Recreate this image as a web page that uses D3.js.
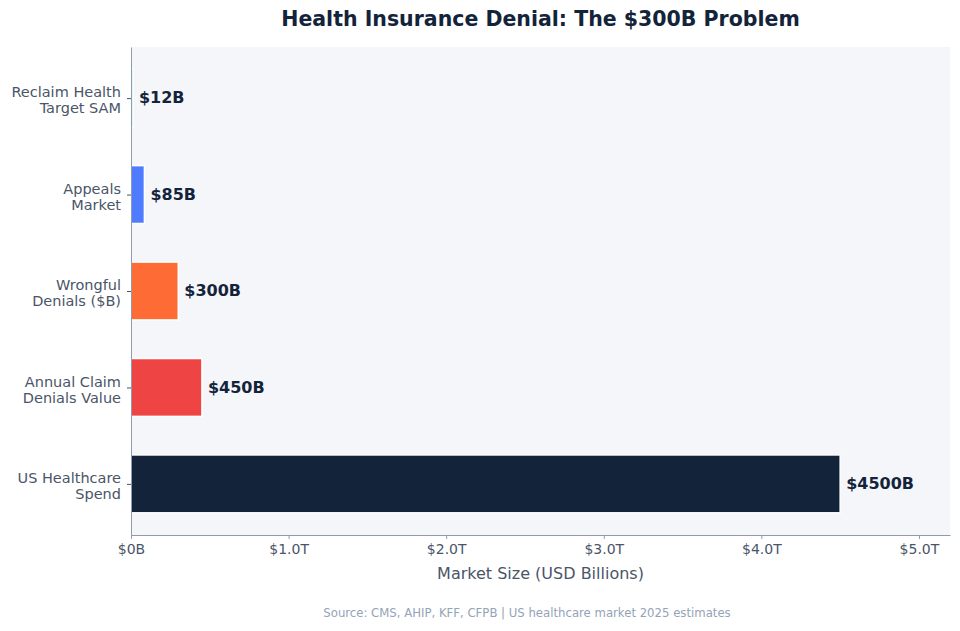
<!DOCTYPE html>
<html>
<head>
<meta charset="utf-8">
<script src="https://cdn.jsdelivr.net/npm/d3@7"></script>
<style>
  body { margin: 0; background: #fff; }
  svg, svg text { font-family: "DejaVu Sans", sans-serif; }
</style>
</head>
<body>
<div id="chart"></div>
<script>
// data, bottom to top
var categories = ["US Healthcare\nSpend", "Annual Claim\nDenials Value", "Wrongful\nDenials ($B)", "Appeals\nMarket", "Reclaim Health\nTarget SAM"];
var values = [4500, 450, 300, 85, 12];
var colors = ["#13243a", "#ef4444", "#ff6b35", "#4f7cff", "#10b981"];
var xTicks = [0, 1000, 2000, 3000, 4000, 5000];
var xTickLabels = ["$0B", "$1.0T", "$2.0T", "$3.0T", "$4.0T", "$5.0T"];

var W = 960, H = 631;
var margin = {top: 47, right: 10, bottom: 96, left: 131};
var width = W - margin.left - margin.right,
    height = H - margin.top - margin.bottom;

var svg = d3.select("#chart").append("svg")
    .attr("width", W)
    .attr("height", H);

var g = svg.append("g")
    .attr("transform", "translate(" + margin.left + "," + margin.top + ")");

var x = d3.scaleLinear()
    .domain([0, 5197])
    .range([0, width]);

var y = d3.scaleLinear()
    .domain([-0.53, 4.53])
    .range([height, 0]);

var barH = y(0) - y(0.6);

g.append("rect")
    .attr("width", width)
    .attr("height", height)
    .attr("fill", "#f5f6fa");

// bars
g.selectAll(".bar")
    .data(values)
  .enter().append("rect")
    .attr("class", "bar")
    .attr("x", x(0))
    .attr("y", (d, i) => y(i) - barH / 2)
    .attr("width", d => x(d) - x(0))
    .attr("height", barH)
    .attr("fill", (d, i) => colors[i])
    .attr("stroke", "#fff")
    .attr("stroke-width", 1.5);

// value labels
g.selectAll(".val")
    .data(values)
  .enter().append("text")
    .attr("class", "val")
    .attr("x", d => x(d) + 6)
    .attr("y", (d, i) => y(i))
    .attr("dy", "0.33em")
    .attr("fill", "#13243a")
    .attr("font-size", 16)
    .attr("font-weight", "bold")
    .text(d => "$" + d + "B");

// x axis
var xAxis = g.append("g")
    .attr("transform", "translate(0," + height + ")")
    .call(d3.axisBottom(x).tickValues(xTicks).tickFormat((d, i) => xTickLabels[i]).tickSize(4).tickSizeOuter(0));
xAxis.attr("font-family", null);
xAxis.select(".domain").attr("stroke", "#8f9bb0").attr("stroke-width", 1);
xAxis.selectAll(".tick line").attr("stroke", "#8f9bb0");
xAxis.selectAll(".tick text")
    .attr("fill", "#4a5568")
    .attr("font-size", 14)
    .attr("y", 8)
    .attr("dy", "0.8em");

// y axis
var yAxis = g.append("g")
    .call(d3.axisLeft(y).tickValues(d3.range(categories.length)).tickFormat("").tickSize(4).tickSizeOuter(0));
yAxis.attr("font-family", null);
yAxis.select(".domain").attr("stroke", "#8f9bb0").attr("stroke-width", 1);
yAxis.selectAll(".tick line").attr("stroke", "#4a5568");
yAxis.selectAll(".tick").each(function(d) {
  var lines = categories[d].split("\n");
  var t = d3.select(this).append("text")
      .attr("text-anchor", "end")
      .attr("fill", "#4a5568")
      .attr("font-size", 14.5);
  lines.forEach(function(l, j) {
    t.append("tspan")
      .attr("x", -10)
      .attr("y", (j - (lines.length - 1) / 2) * 16 + 1.5)
      .attr("dy", "0.36em")
      .text(l);
  });
});

// axis title
svg.append("text")
    .attr("x", margin.left + width / 2)
    .attr("y", 579)
    .attr("text-anchor", "middle")
    .attr("fill", "#4a5568")
    .attr("font-size", 16)
    .text("Market Size (USD Billions)");

// title
svg.append("text")
    .attr("x", margin.left + width / 2)
    .attr("y", 26)
    .attr("text-anchor", "middle")
    .attr("fill", "#13243a")
    .attr("font-size", 20.5)
    .attr("font-weight", "bold")
    .text("Health Insurance Denial: The $300B Problem");

// source note
svg.append("text")
    .attr("x", 527)
    .attr("y", 617)
    .attr("text-anchor", "middle")
    .attr("fill", "#94a3b8")
    .attr("font-size", 11.7)
    .text("Source: CMS, AHIP, KFF, CFPB | US healthcare market 2025 estimates");
</script>
</body>
</html>
